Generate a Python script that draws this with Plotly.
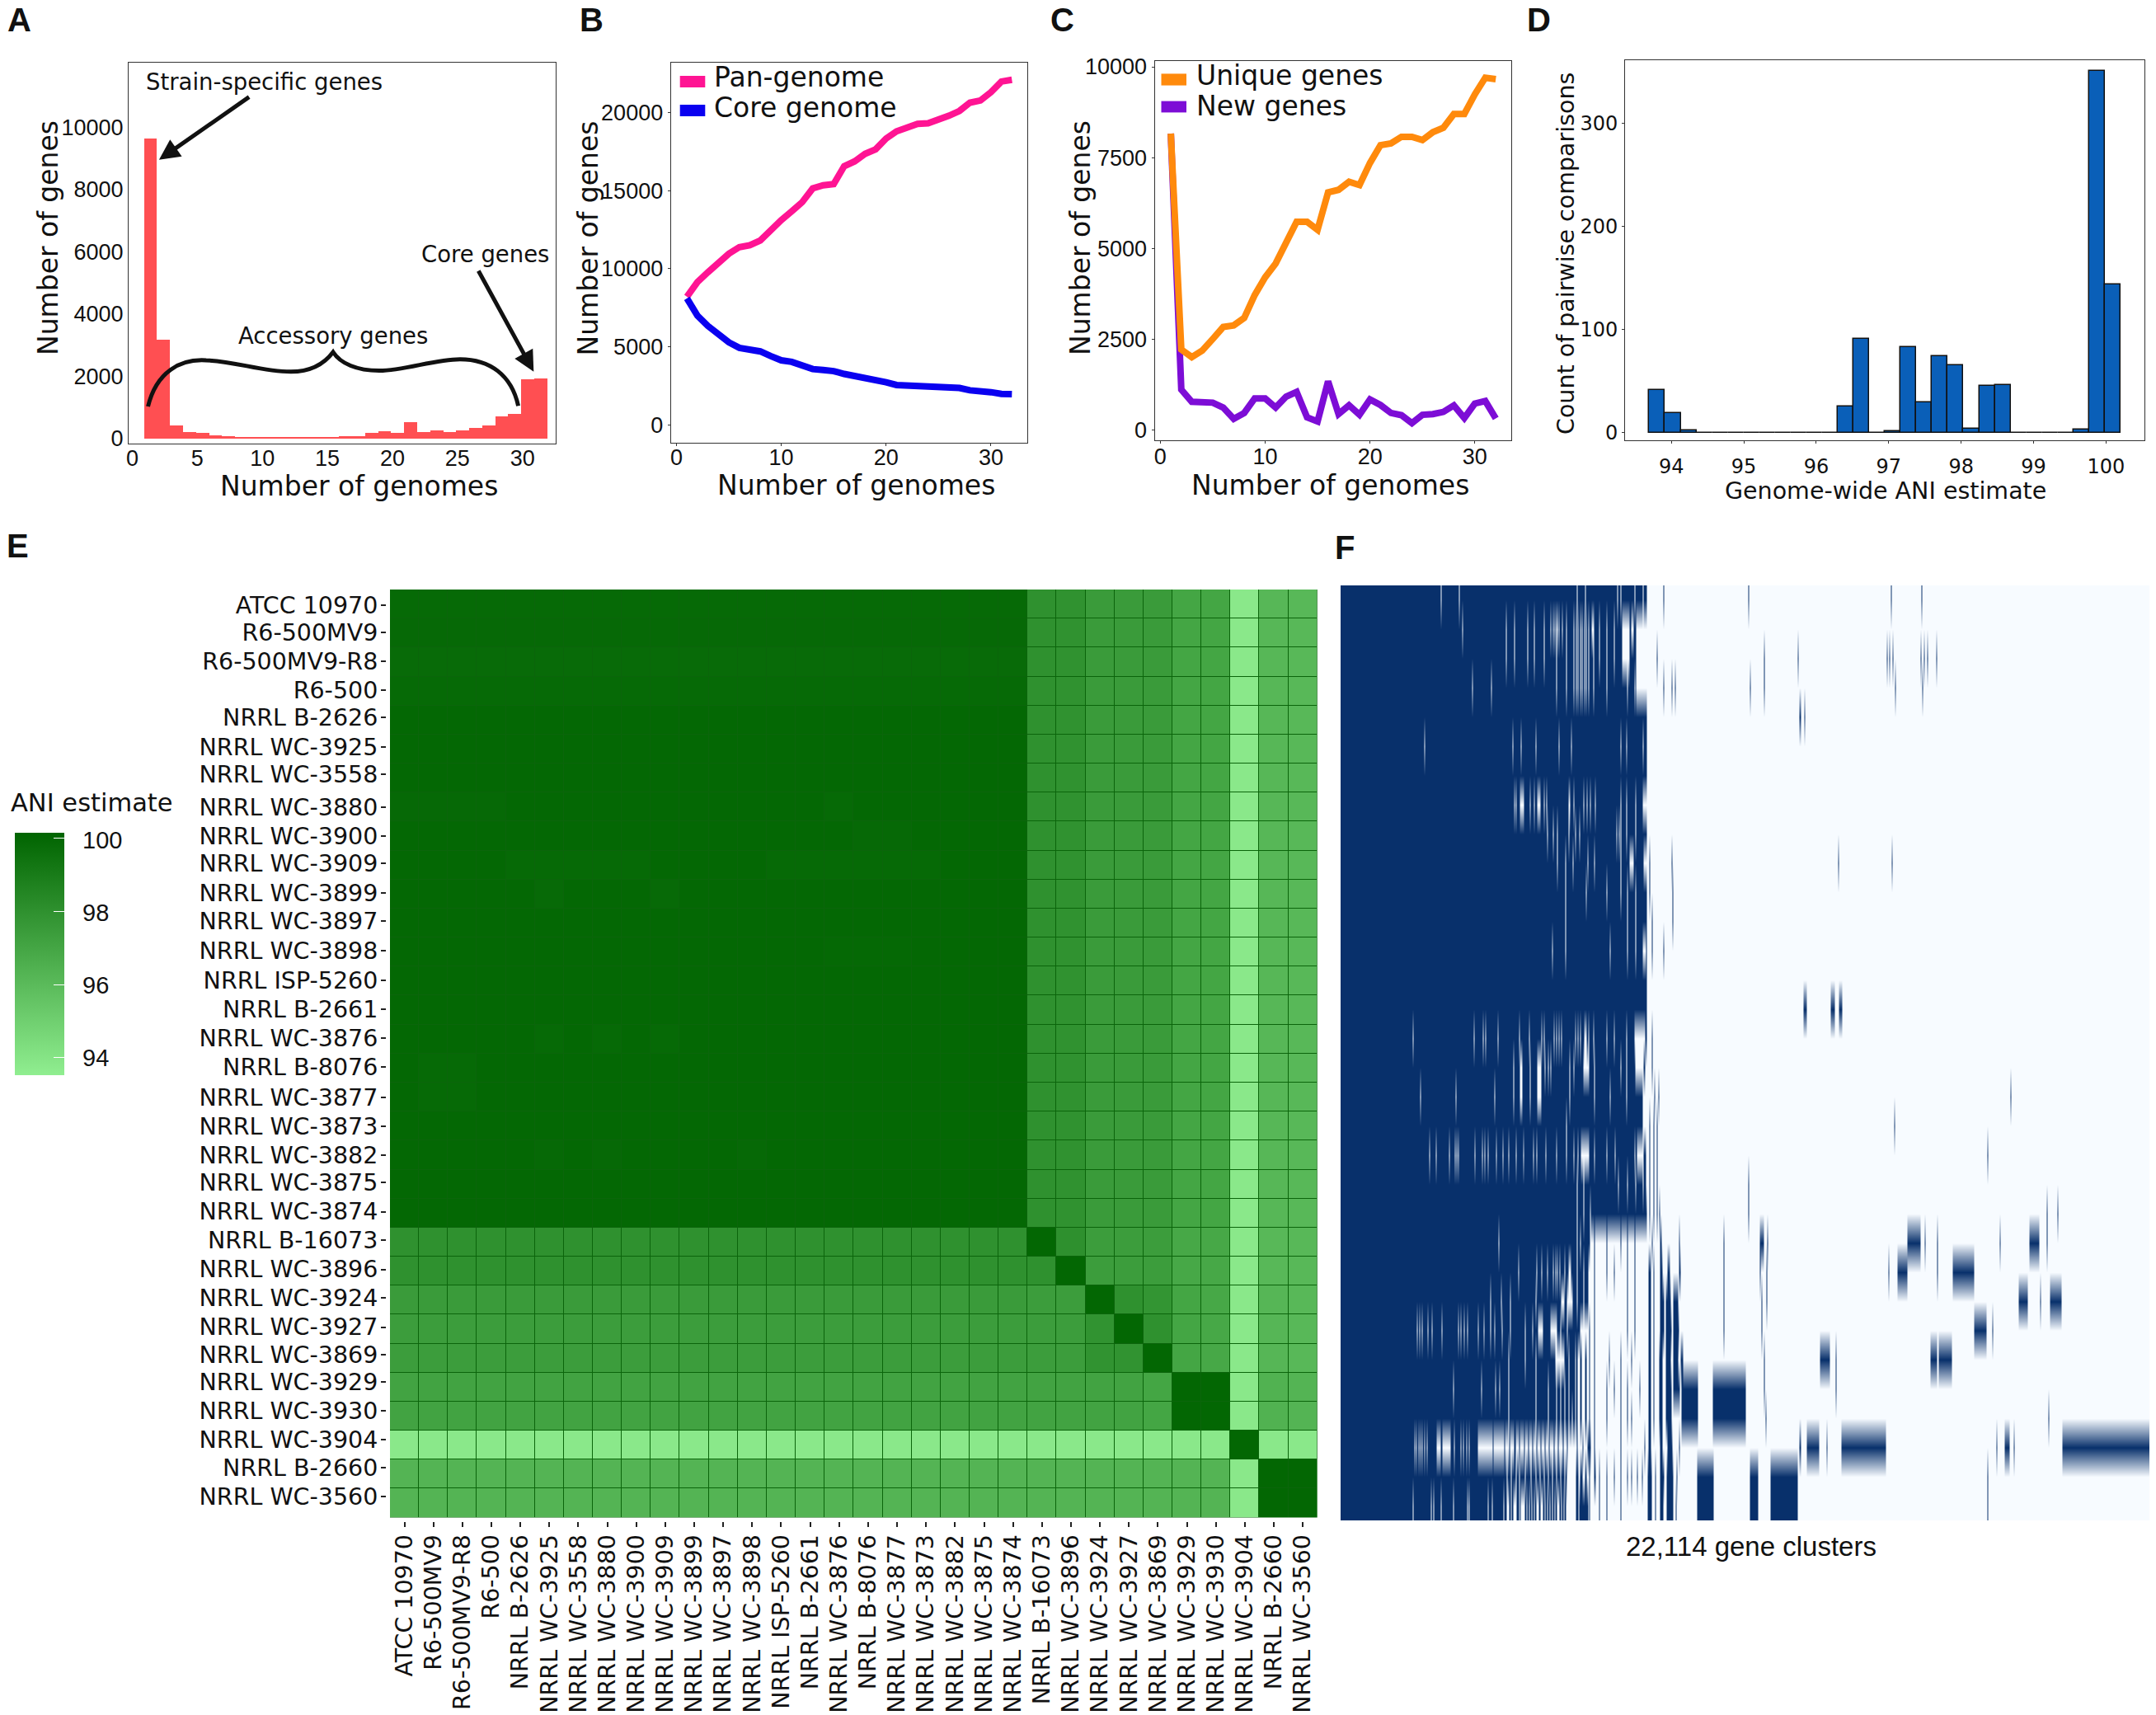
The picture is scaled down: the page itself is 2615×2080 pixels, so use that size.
import numpy as np
import plotly.graph_objects as go

W, H = 2615, 2080

# Panel A: gene frequency histogram
freq_genomes = list(range(1, 32))
freq_counts = [9630, 3170, 420, 190, 170, 90, 60, 35, 30, 30, 30, 30, 30, 30, 30, 80,
               60, 180, 230, 170, 520, 190, 260, 190, 260, 340, 420, 710, 790, 1890, 1930]

# Panels B and C: accumulation curves
genomes = list(range(1, 33))
pan_genome = [8200, 9140, 9770, 10400, 10960, 11380, 11500, 11800, 12480, 13110, 13670,
              14260, 15140, 15340, 15410, 16560, 16870, 17350, 17640, 18330, 18790, 19060,
              19270, 19310, 19520, 19790, 20100, 20630, 20770, 21300, 21980, 22090]
core_genome = [8100, 6990, 6330, 5740, 5280, 4930, 4820, 4700, 4400, 4130, 4030, 3780,
               3570, 3510, 3440, 3260, 3150, 3030, 2920, 2730, 2550, 2510, 2480, 2460,
               2440, 2400, 2360, 2210, 2190, 2090, 1980, 1960]
unique_genes = [8160, 2210, 2000, 2180, 2500, 2830, 2875, 3080, 3710, 4200, 4580, 5150,
                5730, 5730, 5510, 6540, 6610, 6830, 6740, 7350, 7840, 7890, 8070, 8070,
                7980, 8200, 8320, 8700, 8700, 9240, 9700, 9660]
new_genes = [8160, 1105, 770, 765, 745, 610, 300, 460, 860, 860, 610, 910, 1040, 340, 225,
             1330, 430, 670, 410, 835, 680, 460, 400, 180, 410, 430, 490, 670, 320, 720,
             790, 310]

# Panel D: ANI histogram
ani_bins = [93.803, 94.020, 94.237, 94.454, 94.671, 94.887, 95.104, 95.321, 95.538, 95.755,
            95.972, 96.188, 96.405, 96.622, 96.839, 97.056, 97.273, 97.489, 97.706, 97.923,
            98.140, 98.357, 98.574, 98.790, 99.007, 99.224, 99.441, 99.658, 99.875, 100.092]
ani_counts = [41, 19, 2, 0, 0, 0, 0, 0, 0, 0, 0, 0, 25, 91, 0, 1, 83, 29, 74, 65, 4, 45, 46,
              0, 0, 0, 0, 3, 351, 144]

# Panel E: ANI matrix
strains = ["ATCC 10970", "R6-500MV9", "R6-500MV9-R8", "R6-500", "NRRL B-2626", "NRRL WC-3925",
           "NRRL WC-3558", "NRRL WC-3880", "NRRL WC-3900", "NRRL WC-3909", "NRRL WC-3899",
           "NRRL WC-3897", "NRRL WC-3898", "NRRL ISP-5260", "NRRL B-2661", "NRRL WC-3876",
           "NRRL B-8076", "NRRL WC-3877", "NRRL WC-3873", "NRRL WC-3882", "NRRL WC-3875",
           "NRRL WC-3874", "NRRL B-16073", "NRRL WC-3896", "NRRL WC-3924", "NRRL WC-3927",
           "NRRL WC-3869", "NRRL WC-3929", "NRRL WC-3930", "NRRL WC-3904", "NRRL B-2660",
           "NRRL WC-3560"]
# the row labels of the figure drift a little from the cells
strain_label_rows = [0.03, 0.98, 1.98, 2.97, 3.92, 4.92, 5.87, 7.0, 8.0, 8.95, 9.95, 10.94, 11.94,
                     12.98, 13.98, 14.97, 15.97, 17.01, 18.0, 19.0, 19.95, 20.95, 21.94, 22.94,
                     23.93, 24.93, 25.88, 26.83, 27.82, 28.82, 29.77, 30.76]
colorbar_ticks = [94, 96, 98, 100]
ani_core_base = 99.98
# (row, columns, value) for the slightly paler cells of the big block
ani_core_paler = [
    (0, range(22), 99.87), (1, range(22), 99.89), (2, range(22), 99.79), (3, range(22), 99.87),
    (7, [0, 1, 2, 3], 99.89), (7, [15], 99.87), (8, [16, 17], 99.89),
    (9, [4, 5, 6, 7, 8, 13, 14, 15, 16, 17, 18], 99.86), (10, [5, 9], 99.84),
    (12, [15, 16, 17], 99.9), (15, [5, 7, 9], 99.86), (16, [1, 2], 99.88), (17, [1, 2], 99.88),
    (19, [5, 7, 12], 99.89),
]
ani_core_vs_rest = [98.0, 97.95, 97.5, 97.5, 97.5, 97.0, 97.0, 93.8, 96.15, 96.1]
ani_rest_vs_core = [98.0, 98.0, 97.5, 97.4, 97.4, 97.1, 97.1, 93.8, 96.3, 96.3]
ani_rest = [
    [100, 98.05, 97.4, 97.4, 97.4, 96.9, 96.9, 93.8, 96.1, 96.1],
    [98.0, 100, 97.4, 97.4, 97.4, 96.9, 96.9, 93.8, 96.1, 96.1],
    [97.4, 97.4, 100, 98.0, 97.8, 97.0, 96.9, 93.8, 96.2, 96.1],
    [97.4, 97.4, 97.9, 100, 98.0, 97.0, 96.9, 93.8, 96.2, 96.1],
    [97.4, 97.4, 97.9, 97.9, 100, 97.0, 96.9, 93.8, 96.2, 96.1],
    [97.1, 97.1, 97.1, 97.1, 97.0, 100, 100, 93.8, 96.4, 96.3],
    [97.1, 97.1, 97.1, 97.1, 97.0, 100, 100, 93.8, 96.4, 96.3],
    [93.8, 93.8, 93.8, 93.8, 93.8, 93.8, 93.8, 100, 93.8, 93.8],
    [96.3, 96.3, 96.3, 96.3, 96.3, 96.3, 96.3, 93.8, 100, 100],
    [96.3, 96.3, 96.3, 96.3, 96.3, 96.3, 96.3, 93.8, 100, 100],
]

# Panel F: presence/absence per genome. Runs are in columns of the 981 wide matrix
f_columns = 981
f_solid_end = [371, 371, 371, 371, 371, 371, 371, 371, 371, 367, 371, 371, 371, 371, 371, 371,
               369, 366, 366, 370, 370, 371, 306, 306, 306, 306, 284, 284, 284, 300, 285, 302]
f_gaps = [
    [121, 143, 286, 296, 335, 339, 356, 366],
    [147, 200, 210, 226, 234, 246, 254, 257, 259, 261, 262, 264, 268, 273, 282, 285, 287, 290, 292,
     295, 297, 300, (304, 306), 313, 322, 331, (341, 349), (352, 354), (358, 371)],
    [200, 210, 226, 234, 246, 261, 273, 282, 285, 287, 290, 292, 295, 297, 300, 306, 313, 322, 331,
     (341, 349), (358, 371)],
    [159, 182, 261, 273, 282, 285, 287, 290, 292, 295, 297, 300, 306, 322, 347, 356, (358, 371)],
    [],
    [101, 208, 218, 236, 264, 279, 339, 346, 366],
    [],
    [210, 212, (217, 221), 229, 234, (238, 241), 246, 249, (276, 277), 282, 294, 298, 302, 308, 339,
     346, 357, (366, 370)],
    [250, 257, 262, 276, 284, 289, 334, 337, 339, 346, 357],
    [262, 272, 281, 299, 307, 339, (350, 354)],
    [272, 297, 322, 339, 347, 357],
    [272, 347, 357],
    [256, 272, 326, 347, 357, (366, 369)],
    [],
    [],
    [87, 161, 172, 175, 190, 216, 228, 243, 246, 258, 261, 264, 267, 284, 287, 290, (295, 297), 300,
     306, 322, 331, 346, (356, 368)],
    [209, (217, 219), 229, (238, 242), 247, 251, 254, 277, 282, (294, 300), 307, 339, 346, (357, 366)],
    [96, 139, 186, 209, (217, 219), 229, (238, 242), 277, 307, 326, 346],
    [273],
    [107, 115, 131, 138, 140, 142, 162, 171, 174, 178, 188, 196, 203, 212, 221, 233, 237, 248, 261,
     273, 282, 287, (291, 300), 307, 322, 332, 356, (359, 366)],
    [286, 294, 336, 347, 357, 366],
    [286, 294, 302],
    [191, 286, 290, (302, 306)],
    [215, 237, 243, 250, 257, 260, 262, 265, 271, (276, 278), 286, 294, (300, 305)],
    [181, 194, 205, 236, (267, 270), (274, 280), 286, 294, (300, 305)],
    [92, 95, 98, 105, 110, 122, 142, 145, 149, 153, 166, 173, 181, 186, 195, 205, 223, 232,
     (239, 244), (254, 261), 266, 274, (290, 300), (302, 305)],
    [203, 223, 236, (260, 270), 276],
    [136, 170, 187, 192, 203, 236, 251, 261, 266, 271, 276],
    [203, 236, 251, 261, 266, 271, 276, 280],
    [89, 91, 94, 96, 98, 101, 104, (116, 120), (123, 132), 137, 145, 148, 152, 155, (166, 183),
     (185, 197), (199, 203), (205, 209), (212, 215), (217, 221), (223, 226), (228, 231), (233, 236),
     (238, 241), (243, 246), (248, 251), (253, 257), (259, 262), (264, 268), (270, 273), (275, 285),
     (287, 292), (294, 298)],
    [201, 206, 212, 216, 223, 230, 236, 241, 246, 251, 256, 261, 266, 271, (274, 284)],
    [87, 109, 112, 121, 136, 153, 155, 178, 183, 197, (201, 203), 206, (209, 212), 216, (218, 222),
     225, 228, 231, 234, (237, 239), (242, 244), 247, 250, 253, 256, 259, (262, 264), 267, 270,
     (273, 284), 288, 292, 296, 300],
]
f_marks = [
    [391, 494, 667, 704],
    [],
    [383, 513, 554, 662, 665, 669, 703, 707, 711, 722],
    [391, 401, 405, 496, 513, 672, 705],
    [(556, 557), 562],
    [],
    [],
    [],
    [],
    [374, 401, 603, 668],
    [374, 402],
    [377, 402],
    [377, 391],
    [],
    [(561, 564), (594, 598), (604, 607)],
    [377],
    [377],
    [380, 385, 812],
    [374, 379, 383, 671],
    [374, 379, 383, 784],
    [374, 379, 383, 494],
    [374, 379, 383, 386, 494, 856, 869],
    [307, 322, 339, 347, 356, 377, (387, 388), 410, 464, (508, 512), 517, (687, 702), 708, 723, 799,
     (835, 846), 856],
    [307, 322, 331, 347, 356, (373, 375), 379, (387, 389), (396, 398), (410, 411), 464, 508, 516, 664,
     (675, 686), 723, (742, 767)],
    [307, 347, 356, (373, 375), 379, (387, 391), (394, 399), (403, 408), 464, 510, 516, (822, 832), 848,
     (860, 873)],
    [307, 347, 356, (373, 375), 379, (387, 391), (394, 400), (403, 409), 464, 510, (768, 782), 790],
    [(285, 286), (290, 291), (296, 297), 301, 307, 325, 339, 352, (373, 375), 379, (386, 389), (394, 399),
     (403, 408), (412, 414), 513, (581, 592), 600, (715, 722), (725, 740)],
    [(285, 286), (290, 291), (296, 297), 301, 307, 322, 331, 339, 347, 362, (373, 375), 379, (386, 389),
     (394, 400), (403, 410), (413, 432), (451, 490), 513, 600],
    [(285, 286), (290, 291), (296, 297), 301, 307, 322, 339, 347, 352, (373, 375), 379, (386, 389),
     (394, 400), (413, 432), (451, 490), 515, 858],
    [(300, 302), 307, 339, 368, (373, 375), (387, 389), (396, 401), 410, (556, 557), (565, 579), 589,
     (607, 660), 795, (805, 810), 816, (875, 980)],
    [(285, 287), (290, 292), (296, 297), 301, (307, 308), 313, 322, 331, 339, 347, 352, 359, 365, (372, 376),
     381, (387, 391), (395, 402), 407, (432, 451), (496, 505), (521, 553), 784],
    [(285, 287), (290, 292), (296, 297), 301, 313, 322, 339, (372, 376), 381, (387, 390), (395, 402),
     406, (432, 451), (496, 505), (521, 553), 784],
]


def xdom(left, right):
  return [left / W, right / W]


def ydom(top, bottom):
  return [1 - bottom / H, 1 - top / H]


def px(x, y):
  return x / W, 1 - y / H


def runs_to(row, runs, value):
  for run in runs:
    start, end = run if isinstance(run, tuple) else (run, run)
    row[start:end + 1] = value


# build the two matrices
ani = np.full((32, 32), ani_core_base)
for r, cols, value in ani_core_paler:
  ani[r, list(cols)] = value
ani[:22, 22:] = ani_core_vs_rest
ani[22:, :22] = np.array(ani_rest_vs_core)[:, None]
ani[22:, 22:] = ani_rest

presence = np.zeros((32, f_columns), dtype=int)
for i in range(32):
  presence[i, :f_solid_end[i]] = 1
  runs_to(presence[i], f_gaps[i], 0)
  runs_to(presence[i], f_marks[i], 1)

SANS = "Liberation Sans"
DEJAVU = "DejaVu Sans"
FRAME = "#333333"


def frame_axis(domain, rng, tickvals, size=27, family=SANS, ticklen=3, standoff=0):
  return dict(domain=domain, range=rng, tickmode="array", tickvals=tickvals, tickformat="d",
              tickfont=dict(family=family, size=size, color="#111111"),
              ticks="outside" if ticklen else "", ticklen=ticklen, tickcolor=FRAME,
              ticklabelstandoff=standoff, showgrid=False, zeroline=False, showline=True,
              linecolor=FRAME, linewidth=1, mirror=True)


fig = go.Figure()

fig.add_trace(go.Bar(x=freq_genomes, y=freq_counts, offset=-0.1, width=1,
                     marker=dict(color="#FF4F52", line=dict(width=0)),
                     xaxis="x", yaxis="y", showlegend=False))

fig.add_trace(go.Scatter(x=genomes, y=pan_genome, mode="lines", name="Pan-genome",
                         line=dict(color="#FF1493", width=8), xaxis="x2", yaxis="y2",
                         showlegend=False))
fig.add_trace(go.Scatter(x=genomes, y=core_genome, mode="lines", name="Core genome",
                         line=dict(color="#0A00F0", width=8), xaxis="x2", yaxis="y2",
                         showlegend=False))

fig.add_trace(go.Scatter(x=genomes, y=new_genes, mode="lines", name="New genes",
                         line=dict(color="#7D0DD6", width=8), xaxis="x3", yaxis="y3",
                         showlegend=False))
fig.add_trace(go.Scatter(x=genomes, y=unique_genes, mode="lines", name="Unique genes",
                         line=dict(color="#FF8A0C", width=8), xaxis="x3", yaxis="y3",
                         showlegend=False))

fig.add_trace(go.Bar(x=ani_bins, y=ani_counts, width=0.2168,
                     marker=dict(color="#0A5FB8", line=dict(color="#111111", width=1.5)),
                     xaxis="x4", yaxis="y4", showlegend=False))

fig.add_trace(go.Heatmap(z=ani, x=strains, y=list(range(32)), zmin=93.52, zmax=100.15,
                         colorscale=[[0, "#90EE90"], [1, "#006400"]], xgap=1, ygap=1,
                         xaxis="x5", yaxis="y5",
                         colorbar=dict(x=18 / W, xanchor="left", xpad=0, y=1 - 1304 / H,
                                       yanchor="bottom", ypad=0, lenmode="pixels", len=293.5,
                                       thicknessmode="pixels", thickness=60, outlinewidth=0,
                                       tickmode="array", tickvals=colorbar_ticks,
                                       ticks="inside", ticklen=13, tickcolor="white", tickwidth=1,
                                       showticklabels=False)))

fig.add_trace(go.Heatmap(z=presence, zmin=0, zmax=1, zsmooth="best",
                         colorscale=[[0, "#F7FBFF"], [1, "#08306B"]], showscale=False,
                         hoverinfo="skip", xaxis="x6", yaxis="y6"))

fig.update_layout(
  width=W, height=H, margin=dict(l=0, r=0, t=0, b=0, autoexpand=False), autosize=False,
  paper_bgcolor="white", plot_bgcolor="white", bargap=0,
  font=dict(family=DEJAVU, color="#111111"),
  xaxis=frame_axis(xdom(156, 674), [-0.28, 32.55], [0, 5, 10, 15, 20, 25, 30], ticklen=0, standoff=-6),
  yaxis=frame_axis(ydom(76.3, 537.8), [-157, 12063], [0, 2000, 4000, 6000, 8000, 10000], ticklen=0, standoff=0),
  xaxis2=frame_axis(xdom(813.6, 1246.4), [-0.54, 33.5], [0, 10, 20, 30], standoff=-9),
  yaxis2=frame_axis(ydom(75.5, 536.6), [-1127, 23215], [0, 5000, 10000, 15000, 20000]),
  xaxis3=frame_axis(xdom(1400.5, 1833.3), [-0.54, 33.5], [0, 10, 20, 30], standoff=-7),
  yaxis3=frame_axis(ydom(74.3, 533.8), [-288, 10153], [0, 2500, 5000, 7500, 10000]),
  xaxis4=frame_axis(xdom(1971, 2601), [93.36, 100.53], [94, 95, 96, 97, 98, 99, 100], size=24, family=DEJAVU, standoff=7),
  yaxis4=frame_axis(ydom(73, 533.8), [-7.3, 361], [0, 100, 200, 300], size=24, family=DEJAVU),
  xaxis5=dict(domain=xdom(473, 1597.7), type="category", range=[-0.5, 31.5], tickangle=-90,
              tickfont=dict(family=DEJAVU, size=28.5, color="#111111"), ticks="outside", ticklen=6,
              tickwidth=2, tickcolor="#222222", showline=True, linewidth=5, linecolor="white",
              showgrid=False, zeroline=False, anchor="y5", tickmode="array", tickvals=strains,
              ticklabelstandoff=-2),
  yaxis5=dict(domain=ydom(715, 1840.6), range=[31.5, -0.5],
              tickfont=dict(family=DEJAVU, size=28.5, color="#111111"), ticks="outside", ticklen=6,
              tickwidth=2, tickcolor="#222222", showline=True, linewidth=5, linecolor="white",
              showgrid=False, zeroline=False, anchor="x5", tickmode="array",
              tickvals=strain_label_rows, ticktext=strains, ticklabelstandoff=-2),
  xaxis6=dict(domain=xdom(1626, 2607), range=[-0.5, f_columns - 0.5], visible=False, anchor="y6"),
  yaxis6=dict(domain=ydom(710, 1844), range=[31.5, -0.5], visible=False, anchor="x6"),
)
for i in ["", "2", "3", "4"]:
  fig.layout["xaxis" + i].anchor = "y" + i
  fig.layout["yaxis" + i].anchor = "x" + i


def text(x, y, s, size=33, family=DEJAVU, angle=0, anchor="center"):
  ax, ay = px(x, y)
  fig.add_annotation(x=ax, y=ay, xref="paper", yref="paper", text=s, showarrow=False,
                     xanchor=anchor, yanchor="middle", textangle=angle,
                     font=dict(family=family, size=size, color="#111111"))


def arrow(tail, head):
  ax, ay = px(*head)
  fig.add_annotation(x=ax, y=ay, xref="paper", yref="paper", text="", showarrow=True,
                     ax=tail[0] - head[0], ay=tail[1] - head[1], arrowhead=2, arrowsize=1,
                     arrowwidth=5, arrowcolor="#111111")


def key(left, right, top, bottom, color):
  x0, y0 = px(left, bottom)
  x1, y1 = px(right, top)
  fig.add_shape(type="rect", xref="paper", yref="paper", x0=x0, x1=x1, y0=y0, y1=y1,
                fillcolor=color, line=dict(width=0))


# panel letters
for letter, x, y in [("A", 23, 24), ("B", 717, 24), ("C", 1288, 24), ("D", 1866, 24),
                     ("E", 22, 662), ("F", 1631, 664)]:
  text(x, y, "<b>" + letter + "</b>", size=40, family=SANS)

# axis titles
text(58, 289, "Number of genes", angle=-90)
text(435, 589, "Number of genomes")
text(712.5, 289, "Number of genes", angle=-90)
text(1038, 588, "Number of genomes")
text(1310, 289, "Number of genes", angle=-90)
text(1613, 588, "Number of genomes")
text(1899, 308, "Count of pairwise comparisons", size=28.5, angle=-90)
text(2287, 595, "Genome-wide ANI estimate", size=28.5)
text(111, 973.5, "ANI estimate", size=30.5)
text(2124, 1875, "22,114 gene clusters", family=SANS)

# colour bar labels sit further from the bar than plotly puts them
for v in colorbar_ticks:
  text(98, 1283 - (v - 94) * 44, str(v), size=29, family=SANS, anchor="left")

# panel A notes
text(320, 99, "Strain-specific genes", size=27.5)
text(404, 406.5, "Accessory genes", size=27.5)
text(588.6, 308.4, "Core genes", size=27.5)
arrow((303.6, 116.6), (192.9, 193.8))
arrow((579.5, 327), (647.3, 450.8))

brace = [(179.5, 493), (189.7, 450.8), (218.8, 435), (250, 437), (285.7, 438), (317, 450.8),
         (352.7, 450.8), (379.5, 450.8), (395, 439), (404, 427), (413, 441), (433, 449.6),
         (460, 449.6), (491, 449.6), (526.8, 435.7), (558, 435.7), (593.8, 435.7),
         (620.5, 454.7), (628.6, 492.3)]
pts = [px(*p) for p in brace]
path = "M %f,%f" % pts[0]
for i in range(1, len(pts), 3):
  path += " C %f,%f %f,%f %f,%f" % (pts[i] + pts[i + 1] + pts[i + 2])
fig.add_shape(type="path", path=path, xref="paper", yref="paper", line=dict(color="#111111", width=5))

# hand drawn legend keys for panels B and C
key(824.7, 855.3, 92, 106, "#FF1493")
key(824.7, 855.3, 127, 141, "#0A00F0")
text(863.7, 94, "Pan-genome", anchor="left")
text(863.7, 130, "Core genome", anchor="left")
key(1408.5, 1439, 89.4, 103.6, "#FF8A0C")
key(1408.5, 1439, 122.6, 136.4, "#7D0DD6")
text(1449.4, 92, "Unique genes", anchor="left")
text(1449.4, 128.5, "New genes", anchor="left")

# dark green seen through the cell gaps of panel E
fig.add_shape(type="rect", xref="x5 domain", yref="y5 domain", x0=0, x1=1, y0=0, y1=1,
              fillcolor="#0B650B", line=dict(width=0), layer="below")

fig.write_html("out.html", config={"displayModeBar": False},
               post_script="document.body.style.margin='0'")
